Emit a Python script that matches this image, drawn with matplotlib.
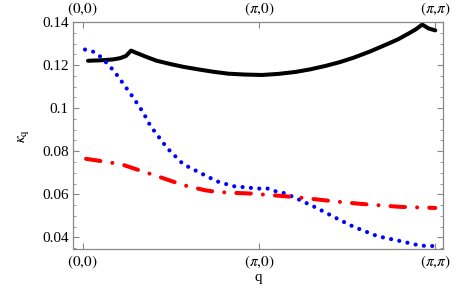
import numpy as np
import matplotlib
matplotlib.use('Agg')
import matplotlib.pyplot as plt
from matplotlib.ticker import MultipleLocator

plt.rcParams['font.family'] = ['Liberation Serif', 'DejaVu Serif']
plt.rcParams['mathtext.fontset'] = 'stix'

# path positions: 0=(0,0), 1=(pi,0), 2=(pi,pi)
q_black = [0.030, 0.10, 0.17, 0.212, 0.245, 0.274, 0.30, 0.364, 0.42, 0.496, 0.57, 0.648,
           0.74, 0.826, 0.92, 1.017, 1.11, 1.206, 1.29, 1.377, 1.46, 1.536, 1.63, 1.727,
           1.79, 1.85, 1.89, 1.926, 1.962, 2.0]
k_black = [0.1220, 0.1222, 0.1226, 0.1232, 0.1242, 0.1267, 0.1258, 0.1237, 0.1220, 0.1205, 0.1192, 0.1181,
           0.1169, 0.1160, 0.1156, 0.1154, 0.1159, 0.1168, 0.1180, 0.1196, 0.1214, 0.1234, 0.1263, 0.1297,
           0.1320, 0.1347, 0.1366, 0.1388, 0.1370, 0.1361]

q_blue = [0.013, 0.064, 0.102, 0.136, 0.168, 0.198, 0.227, 0.286, 0.343, 0.384, 0.479,
          0.570, 0.666, 0.763, 0.854, 0.996, 1.053, 1.102, 1.138, 1.195, 1.235, 1.320,
          1.445, 1.536, 1.672, 1.803, 1.916, 2.0]
k_blue = [0.1272, 0.1261, 0.1238, 0.1210, 0.1181, 0.1150, 0.1117, 0.1050, 0.0980, 0.0918, 0.0815,
          0.0740, 0.0700, 0.0660, 0.0638, 0.0627, 0.0627, 0.0612, 0.0607, 0.0588, 0.0573, 0.0540,
          0.0487, 0.0450, 0.0406, 0.0383, 0.0362, 0.0360]

q_red = [0.019, 0.155, 0.229, 0.365, 0.439, 0.570, 0.695, 0.763, 0.854, 0.951,
         1.138, 1.235, 1.434, 1.576, 1.803, 2.0]
k_red = [0.0765, 0.0748, 0.0737, 0.0700, 0.0680, 0.0643, 0.0619, 0.0611, 0.0607, 0.0604,
         0.0592, 0.0585, 0.0567, 0.0556, 0.0542, 0.0537]

tick_pos = [0, 1, 2]
tick_labels = [r'$(0{,}0)$', r'$(\pi{,}0)$', r'$(\pi{,}\pi)$']
ytick_vals = [0.04, 0.06, 0.08, 0.1, 0.12, 0.14]
ytick_labels = ['0.04', '0.06', '0.08', '0.1', '0.12', '0.14']

fig = plt.figure(figsize=(4.68, 2.89), dpi=100)
ax = fig.add_axes([0.156, 0.138, 0.791, 0.786])

ax.plot(q_black, k_black, color='black', lw=2.9, solid_capstyle='round',
        solid_joinstyle='round')
ax.plot(q_blue, k_blue, color='#0000ff', lw=3.0, linestyle=(0, (0.01, 2.0)),
        dash_capstyle='round')
ax.plot(q_red, k_red, color='#ff0000', lw=2.9, linestyle=(0, (3.6, 3.0, 0.01, 3.0)),
        dash_capstyle='round')

ax.set_xlim(-0.055, 2.045)
ax.set_ylim(0.0346, 0.14)

gray = '#888888'
for s in ax.spines.values():
    s.set_color(gray)
    s.set_linewidth(0.9)

ax.set_xticks(tick_pos)
ax.set_xticklabels(tick_labels)
ax.set_yticks(ytick_vals)
ax.set_yticklabels(ytick_labels)
ax.yaxis.set_minor_locator(MultipleLocator(0.005))
ax.tick_params(which='both', direction='in', color=gray, top=True, right=True,
               labeltop=True, labelsize=11, pad=3)
ax.tick_params(which='major', length=4, width=0.8)
ax.tick_params(which='minor', length=2.2, width=0.6)

ax.set_xlabel('q', fontsize=11, labelpad=0)
ax.set_ylabel(r'$\kappa_{\mathrm{q}}$', fontsize=11, labelpad=8)

fig.savefig('out.png', dpi=100)
